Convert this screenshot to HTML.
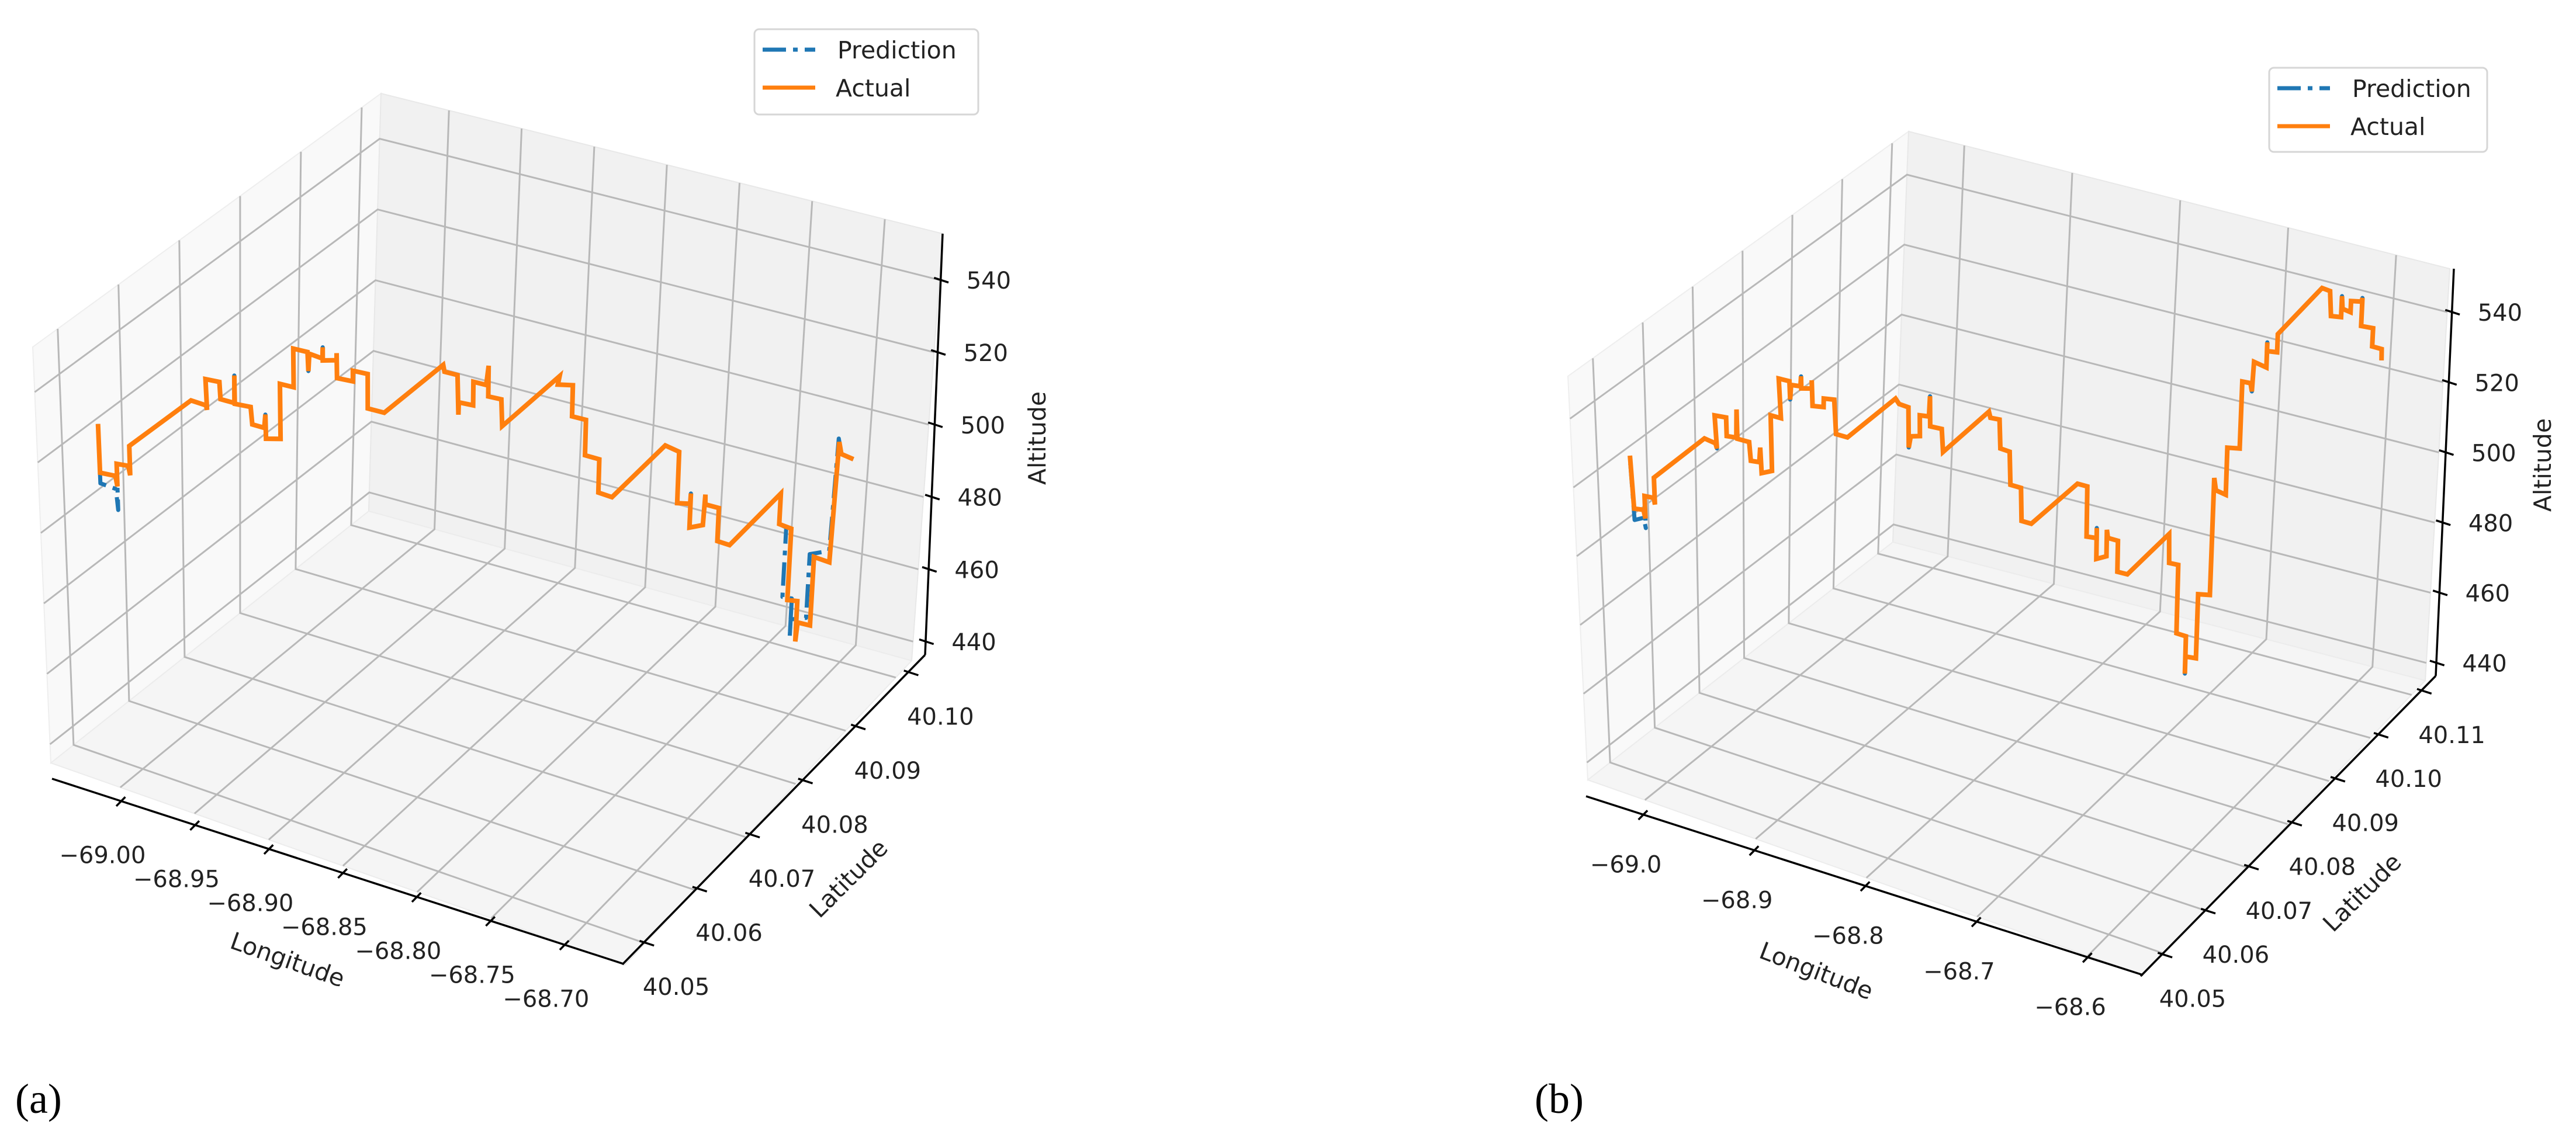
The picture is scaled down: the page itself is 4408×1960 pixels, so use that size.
<!DOCTYPE html>
<html><head><meta charset="utf-8"><style>
html,body{margin:0;padding:0;background:#fff;}
svg{display:block;font-family:"DejaVu Sans","Liberation Sans",sans-serif;}
</style></head><body>
<svg id="fig" xmlns="http://www.w3.org/2000/svg" width="4408" height="1960" viewBox="0 0 4408 1960">
<rect x="0" y="0" width="4408" height="1960" fill="#ffffff"/>
<g id="panelA"></g>
<g id="panelB"></g>
<text x="26" y="1905" font-family="Liberation Serif, serif" font-size="72" fill="#000">(a)</text>
<text x="2626" y="1905" font-family="Liberation Serif, serif" font-size="72" fill="#000">(b)</text>
</svg>
<script>
// ---------- Panel (a) data ----------
const lonTicksA = [-69.00,-68.95,-68.90,-68.85,-68.80,-68.75,-68.70];
const lonTickLabelsA = ["\u221269.00","\u221268.95","\u221268.90","\u221268.85","\u221268.80","\u221268.75","\u221268.70"];
const latTicksA = [40.05,40.06,40.07,40.08,40.09,40.10];
const latTickLabelsA = ["40.05","40.06","40.07","40.08","40.09","40.10"];
const altTicksA = [440,460,480,500,520,540];
const altTickLabelsA = ["440","460","480","500","520","540"];

const actualLonA = [-69.0211,-69.0209,-69.0147,-69.0140,-69.0140,-69.0091,-69.0084,-69.0084,-68.9821,-68.9757,
-68.9755,-68.9757,-68.9701,-68.9696,-68.9639,-68.9637,-68.9637,-68.9571,-68.9566,-68.9514,
-68.9509,-68.9507,-68.9445,-68.9445,-68.9389,-68.9389,-68.9330,-68.9325,-68.9322,-68.9266,
-68.9264,-68.9264,-68.9207,-68.9207,-68.9205,-68.9138,-68.9138,-68.9074,-68.9074,-68.9006,
-68.8755,-68.8750,-68.8693,-68.8688,-68.8686,-68.8624,-68.8624,-68.8568,-68.8561,-68.8561,
-68.8503,-68.8498,-68.8253,-68.8260,-68.8196,-68.8196,-68.8135,-68.8135,-68.8070,-68.8070,
-68.8009,-68.7782,-68.7718,-68.7718,-68.7661,-68.7659,-68.7659,-68.7600,-68.7595,-68.7593,
-68.7531,-68.7531,-68.7474,-68.7255,-68.7255,-68.7198,-68.7198,-68.7153,-68.7151,-68.7146,
-68.7089,-68.7089,-68.7015,-68.7003,-68.6991,-68.6934];
const actualLatA = [40.0497,40.0497,40.0507,40.0508,40.0508,40.0515,40.0516,40.0516,40.0555,40.0564,
40.0565,40.0564,40.0573,40.0573,40.0582,40.0582,40.0582,40.0592,40.0593,40.0600,
40.0601,40.0601,40.0610,40.0610,40.0619,40.0619,40.0628,40.0628,40.0629,40.0637,
40.0637,40.0637,40.0646,40.0646,40.0646,40.0656,40.0656,40.0665,40.0665,40.0676,
40.0713,40.0714,40.0722,40.0723,40.0723,40.0732,40.0732,40.0740,40.0742,40.0742,
40.0750,40.0751,40.0787,40.0786,40.0796,40.0796,40.0805,40.0805,40.0814,40.0814,
40.0823,40.0857,40.0866,40.0866,40.0875,40.0875,40.0875,40.0884,40.0885,40.0885,
40.0894,40.0894,40.0902,40.0935,40.0935,40.0943,40.0943,40.0950,40.0950,40.0951,
40.0960,40.0960,40.0970,40.0972,40.0974,40.0982];
const actualAltA = [529.8,516.0,514.7,511.7,518.1,517.3,514.6,522.9,534.4,532.7,
531.3,540.1,538.9,534.1,532.6,540.4,532.4,531.1,526.1,524.9,
528.6,521.8,521.4,536.9,535.5,546.4,545.0,539.7,544.5,542.8,
546.0,542.3,541.9,543.9,536.9,535.5,538.5,537.2,527.5,525.7,
537.3,535.3,534.0,522.8,526.3,525.0,531.6,530.3,535.5,526.9,
525.7,518.1,530.1,527.8,527.0,518.3,516.8,506.9,505.3,496.0,
494.2,506.5,504.2,489.9,489.1,492.0,482.5,482.6,491.0,488.3,
486.7,477.5,475.9,488.0,479.5,477.7,457.9,457.1,445.9,451.1,
449.6,468.6,466.5,499.7,496.2,494.2];

const predLonA = [-69.0211,-69.0209,-69.0147,-69.0140,-69.0140,-69.0091,-69.0084,-69.0084,-68.9821,-68.9757,
-68.9755,-68.9757,-68.9701,-68.9696,-68.9639,-68.9637,-68.9637,-68.9571,-68.9566,-68.9514,
-68.9509,-68.9507,-68.9445,-68.9445,-68.9389,-68.9389,-68.9330,-68.9325,-68.9322,-68.9266,
-68.9264,-68.9264,-68.9207,-68.9207,-68.9205,-68.9138,-68.9138,-68.9074,-68.9074,-68.9006,
-68.8755,-68.8750,-68.8693,-68.8688,-68.8686,-68.8624,-68.8624,-68.8568,-68.8561,-68.8561,
-68.8503,-68.8498,-68.8253,-68.8260,-68.8196,-68.8196,-68.8135,-68.8135,-68.8070,-68.8070,
-68.8009,-68.7782,-68.7718,-68.7718,-68.7661,-68.7659,-68.7659,-68.7600,-68.7595,-68.7593,
-68.7531,-68.7531,-68.7474,-68.7255,-68.7255,-68.7223,-68.7223,-68.7178,-68.7178,-68.7178,
-68.7109,-68.7109,-68.7020,-68.7008,-68.6991,-68.6934];
const predLatA = [40.0497,40.0497,40.0507,40.0508,40.0508,40.0515,40.0516,40.0516,40.0555,40.0564,
40.0565,40.0564,40.0573,40.0573,40.0582,40.0582,40.0582,40.0592,40.0593,40.0600,
40.0601,40.0601,40.0610,40.0610,40.0619,40.0619,40.0628,40.0628,40.0629,40.0637,
40.0637,40.0637,40.0646,40.0646,40.0646,40.0656,40.0656,40.0665,40.0665,40.0676,
40.0713,40.0714,40.0722,40.0723,40.0723,40.0732,40.0732,40.0740,40.0742,40.0742,
40.0750,40.0751,40.0787,40.0786,40.0796,40.0796,40.0805,40.0805,40.0814,40.0814,
40.0823,40.0857,40.0866,40.0866,40.0875,40.0875,40.0875,40.0884,40.0885,40.0885,
40.0894,40.0894,40.0902,40.0935,40.0935,40.0940,40.0940,40.0946,40.0946,40.0946,
40.0957,40.0957,40.0970,40.0972,40.0974,40.0982];
const predAltA = [529.8,513.0,511.0,505.0,518.1,517.3,514.6,522.9,534.4,532.7,
531.3,540.1,538.9,534.1,532.6,540.4,532.4,531.1,526.1,524.9,
528.6,521.8,521.4,536.9,535.5,546.4,545.0,539.7,544.5,542.8,
546.0,542.3,541.9,543.9,536.9,535.5,538.5,537.2,527.5,525.7,
537.3,535.3,534.0,522.8,526.3,525.0,531.6,530.3,535.5,526.9,
525.7,518.1,530.1,527.8,527.0,518.3,516.8,506.9,505.3,496.0,
494.2,506.5,504.2,489.9,489.1,492.0,482.5,482.6,491.0,488.3,
486.7,477.5,475.9,488.0,479.5,478.2,458.9,458.1,447.4,452.3,
451.9,469.6,469.6,500.6,496.2,494.2];

// ---------- Panel (b) data ----------
const lonTicksB = [-69.0,-68.9,-68.8,-68.7,-68.6];
const lonTickLabelsB = ["\u221269.0","\u221268.9","\u221268.8","\u221268.7","\u221268.6"];
const latTicksB = [40.05,40.06,40.07,40.08,40.09,40.10,40.11];
const latTickLabelsB = ["40.05","40.06","40.07","40.08","40.09","40.10","40.11"];
const altTicksB = [440,460,480,500,520,540];
const altTickLabelsB = ["440","460","480","500","520","540"];

const actualLonB = [-69.0190,-69.0181,-69.0128,-69.0118,-69.0118,-69.0065,-69.0062,-69.0062,-68.9771,-68.9708,
-68.9701,-68.9708,-68.9645,-68.9645,-68.9589,-68.9585,-68.9585,-68.9519,-68.9513,-68.9463,
-68.9456,-68.9453,-68.9394,-68.9394,-68.9337,-68.9344,-68.9284,-68.9281,-68.9274,-68.9221,
-68.9218,-68.9218,-68.9158,-68.9158,-68.9155,-68.9095,-68.9092,-68.9033,-68.9026,-68.8963,
-68.8685,-68.8666,-68.8612,-68.8612,-68.8602,-68.8549,-68.8549,-68.8496,-68.8490,-68.8490,
-68.8424,-68.8417,-68.8155,-68.8145,-68.8092,-68.8088,-68.8033,-68.8029,-68.7966,-68.7963,
-68.7907,-68.7639,-68.7582,-68.7582,-68.7522,-68.7522,-68.7522,-68.7462,-68.7462,-68.7456,
-68.7396,-68.7396,-68.7336,-68.7094,-68.7091,-68.7035,-68.7035,-68.6978,-68.6978,-68.6978,
-68.6915,-68.6912,-68.6843,-68.6836,-68.6826,-68.6766,-68.6766,-68.6693,-68.6690,-68.6643,
-68.6633,-68.6626,-68.6553,-68.6553,-68.6553,-68.6493,-68.6493,-68.6247,-68.6198,-68.6188,
-68.6128,-68.6128,-68.6122,-68.6072,-68.6072,-68.6012,-68.6006,-68.6006,-68.5936,-68.5936,
-68.5880,-68.5876];
const actualLatB = [40.0494,40.0496,40.0503,40.0504,40.0504,40.0511,40.0512,40.0512,40.0552,40.0560,
40.0561,40.0560,40.0569,40.0569,40.0576,40.0577,40.0577,40.0586,40.0587,40.0593,
40.0594,40.0595,40.0603,40.0603,40.0611,40.0610,40.0618,40.0618,40.0619,40.0626,
40.0627,40.0627,40.0635,40.0635,40.0635,40.0644,40.0644,40.0652,40.0653,40.0662,
40.0699,40.0702,40.0709,40.0709,40.0711,40.0718,40.0718,40.0725,40.0726,40.0726,
40.0735,40.0736,40.0772,40.0773,40.0780,40.0781,40.0788,40.0789,40.0797,40.0798,
40.0806,40.0842,40.0850,40.0850,40.0858,40.0858,40.0858,40.0866,40.0866,40.0867,
40.0875,40.0875,40.0883,40.0916,40.0917,40.0924,40.0924,40.0932,40.0932,40.0932,
40.0941,40.0941,40.0951,40.0951,40.0953,40.0961,40.0961,40.0971,40.0971,40.0978,
40.0979,40.0980,40.0990,40.0990,40.0990,40.0998,40.0998,40.1032,40.1038,40.1040,
40.1048,40.1048,40.1049,40.1055,40.1055,40.1064,40.1064,40.1064,40.1074,40.1074,
40.1082,40.1082];
const actualAltB = [528.3,512.8,512.3,509.8,516.3,515.6,513.6,521.4,531.7,530.1,
528.6,538.2,537.3,531.9,531.3,539.4,530.9,529.7,524.2,523.7,
527.9,520.4,520.8,536.9,535.8,547.3,546.3,541.0,545.2,544.6,
547.4,543.9,543.6,546.0,538.6,537.9,540.4,539.8,529.8,528.5,
538.4,536.7,535.5,523.9,527.0,526.8,532.8,532.2,538.0,529.3,
528.2,521.5,531.6,529.8,529.0,520.6,519.4,509.8,508.6,499.0,
497.8,507.7,506.5,492.1,491.3,494.2,485.3,485.7,493.3,490.9,
489.7,480.8,479.7,489.6,481.2,480.3,460.7,459.4,448.7,453.6,
452.6,471.0,470.2,503.8,500.1,498.4,511.9,511.1,530.3,529.4,
527.0,535.4,533.2,540.4,537.9,537.1,542.3,553.4,552.2,544.9,
544.1,550.1,546.4,545.1,548.3,547.5,548.6,540.6,539.3,534.1,
532.8,529.6];
const predAltB = [526.0,509.5,510.0,507.0,516.3,515.6,513.6,521.4,531.7,530.1,
528.6,538.2,537.3,531.9,531.3,539.4,530.9,529.7,524.2,523.7,
527.9,520.4,520.8,536.9,535.8,547.3,546.3,541.0,545.2,544.6,
547.4,543.9,543.6,546.0,538.6,537.9,540.4,539.8,529.8,528.5,
538.4,536.7,535.5,523.9,527.0,526.8,532.8,532.2,538.0,529.3,
528.2,521.5,531.6,529.8,529.0,520.6,519.4,509.8,508.6,499.0,
497.8,507.7,506.5,492.1,491.3,494.2,485.3,485.7,493.3,490.9,
489.7,480.8,479.7,489.6,481.2,480.3,460.7,459.4,448.7,453.6,
452.6,471.0,470.2,503.8,500.1,498.4,511.9,511.1,530.3,529.4,
527.0,535.4,533.2,540.4,537.9,537.1,542.3,553.4,552.2,544.9,
544.1,550.1,546.4,545.1,548.3,547.5,548.6,540.6,539.3,534.1,
532.8,529.6];

// ---------- rendering ----------
const NS = "http://www.w3.org/2000/svg";
function mk(tag, attrs, parent){
  const e = document.createElementNS(NS, tag);
  for (const k in attrs) e.setAttribute(k, attrs[k]);
  parent.appendChild(e);
  return e;
}
function lerp(a,b,f){ return [a[0]+(b[0]-a[0])*f, a[1]+(b[1]-a[1])*f]; }
function unit(a,b){ const dx=b[0]-a[0], dy=b[1]-a[1], l=Math.hypot(dx,dy); return [dx/l,dy/l]; }

function drawPanel(g, c){
  const P = (lon,lat,alt)=>{
    const u=(lon-c.lonMin)/c.lonRange, v=(lat-c.latMin)/c.latRange, w=(alt-c.zMin)/c.zRange;
    const f=(k)=>c.L[k]*(1-u)*(1-v)+c.F[k]*u*(1-v)+c.R[k]*u*v+c.B[k]*(1-u)*v;
    const z=(k)=>c.zL[k]*(1-u)*(1-v)+c.zF[k]*u*(1-v)+c.zR[k]*u*v+c.zB[k]*(1-u)*v;
    return [f(0)+w*z(0), f(1)+w*z(1)];
  };
  const lonFrac = v=>(v-c.lonMin)/c.lonRange;
  const latFrac = v=>(v-c.latMin)/c.latRange;
  const zFrac = v=>(v-c.zMin)/c.zRange;
  const x0=c.lonMin, x1=c.lonMin+c.lonRange, y0=c.latMin, y1=c.latMin+c.latRange, z0=c.zMin, z1=c.zMin+c.zRange;
  const pts = arr=>arr.map(p=>p[0].toFixed(1)+","+p[1].toFixed(1)).join(" ");

  let e;
  e = mk("polygon",{points:pts([P(x0,y0,z0),P(x0,y1,z0),P(x0,y1,z1),P(x0,y0,z1)]),fill:"#f9f9f9",stroke:"#eeeeee","stroke-width":2},g);
  
  
  e = mk("polygon",{points:pts([P(x0,y1,z0),P(x1,y1,z0),P(x1,y1,z1),P(x0,y1,z1)]),fill:"#f1f1f1",stroke:"#e8e8e8","stroke-width":2},g);
  
  
  e = mk("polygon",{points:pts([P(x0,y0,z0),P(x1,y0,z0),P(x1,y1,z0),P(x0,y1,z0)]),fill:"#f5f5f5",stroke:"#ececec","stroke-width":2},g);
  
  

  const gridG = mk("g",{stroke:"#b8b8b8","stroke-width":3,fill:"none"},g);
  
  
  c.lonTicks.forEach(t=>{
    e = mk("polyline",{points:pts([P(t,y0,z0),P(t,y1,z0),P(t,y1,z1)])},gridG);
    
    
  });
  c.latTicks.forEach(t=>{
    e = mk("polyline",{points:pts([P(x1,t,z0),P(x0,t,z0),P(x0,t,z1)])},gridG);
    
    
  });
  c.altTicks.forEach(t=>{
    e = mk("polyline",{points:pts([P(x0,y0,t),P(x0,y1,t),P(x1,y1,t)])},gridG);
    
    
  });

  const axG = mk("g",{stroke:"#000","stroke-width":3.5,fill:"none"},g);
  
  
  const txtG = mk("g",{fill:"#222","font-size":40},g);
  
  

  const la=c.lonAxis, ta=c.latAxis, za=c.zAxis;
  const dLon = unit(la[0],la[1]), dLat = unit(ta[0],ta[1]);
  e = mk("line",{x1:la[0][0],y1:la[0][1],x2:la[1][0],y2:la[1][1]},axG);
  
  
  e = mk("line",{x1:ta[0][0],y1:ta[0][1],x2:ta[1][0],y2:ta[1][1]},axG);
  
  
  e = mk("line",{x1:ta[1][0],y1:ta[1][1],x2:za[1][0],y2:za[1][1]},axG);
  
  

  c.lonTicks.forEach((t,i)=>{
    const p = lerp(la[0],la[1],lonFrac(t));
    e = mk("line",{x1:p[0]-12*dLat[0],y1:p[1]-12*dLat[1],x2:p[0]+10*dLat[0],y2:p[1]+10*dLat[1]},axG);
    
    
    e = mk("text",{x:p[0]+c.lonLabelOff[0],y:p[1]+c.lonLabelOff[1],"text-anchor":"middle","dominant-baseline":"central"},txtG);
    e.textContent = c.lonLabels[i];
    
    
  });
  c.latTicks.forEach((t,i)=>{
    const p = lerp(ta[0],ta[1],latFrac(t));
    e = mk("line",{x1:p[0]-8*dLon[0],y1:p[1]-8*dLon[1],x2:p[0]+18*dLon[0],y2:p[1]+18*dLon[1]},axG);
    
    
    e = mk("text",{x:p[0]+c.latLabelOff[0],y:p[1]+c.latLabelOff[1],"text-anchor":"middle","dominant-baseline":"central"},txtG);
    e.textContent = c.latLabels[i];
    
    
  });
  c.altTicks.forEach((t,i)=>{
    const p = lerp(za[0],za[1],zFrac(t));
    e = mk("line",{x1:p[0]-12*dLon[0],y1:p[1]-12*dLon[1],x2:p[0]+14*dLon[0],y2:p[1]+14*dLon[1]},axG);
    
    
    e = mk("text",{x:p[0]+44,y:p[1]+2,"text-anchor":"start","dominant-baseline":"central"},txtG);
    e.textContent = c.altLabels[i];
    
    
  });

  const titles = [["Longitude",c.lonTitle,"longitude-axis-title"],["Latitude",c.latTitle,"latitude-axis-title"],["Altitude",c.altTitle,"altitude-axis-title"]];
  titles.forEach(tt=>{
    const [txt,pos,nm]=tt;
    e = mk("text",{x:pos[0],y:pos[1],"text-anchor":"middle","dominant-baseline":"central","font-size":41,fill:"#222",transform:"rotate("+pos[2]+" "+pos[0]+" "+pos[1]+")"},g);
    e.textContent = txt;
    
    
  });

  const predPts = c.predLon.map((v,i)=>P(v,c.predLat[i],c.predAlt[i]));
  e = mk("polyline",{points:pts(predPts),fill:"none",stroke:"#1f77b4","stroke-width":7,"stroke-dasharray":"40 12 8 12","stroke-linejoin":"round"},g);
  
  
  const actPts = c.actLon.map((v,i)=>P(v,c.actLat[i],c.actAlt[i]));
  e = mk("polyline",{points:pts(actPts),fill:"none",stroke:"#ff7f0e","stroke-width":8,"stroke-linejoin":"miter"},g);
  
  

  const lg = mk("g",{},g);
  
  
  const b=c.legend;
  e = mk("rect",{x:b[0],y:b[1],width:b[2],height:b[3],rx:8,fill:"#fff",stroke:"#d6d6d6","stroke-width":3},lg);
  
  
  const lx=b[0]+14, ly1=b[1]+35, ly2=b[1]+100;
  e = mk("line",{x1:lx,y1:ly1,x2:lx+90,y2:ly1,stroke:"#1f77b4","stroke-width":7,"stroke-dasharray":"40 12 8 12"},lg);
  
  
  e = mk("text",{x:lx+128,y:ly1+1,"dominant-baseline":"central","font-size":41,fill:"#222"},lg);
  e.textContent="Prediction";
  
  
  e = mk("line",{x1:lx,y1:ly2,x2:lx+90,y2:ly2,stroke:"#ff7f0e","stroke-width":7},lg);
  
  
  e = mk("text",{x:lx+125,y:ly2+1,"dominant-baseline":"central","font-size":41,fill:"#222"},lg);
  e.textContent="Actual";
  
  
}

drawPanel(document.getElementById("panelA"), {
  L:[87,1306], F:[1069,1652], R:[1560,1131], B:[631,875],
  zL:[-31,-712], zF:[1,-728], zR:[53,-731], zB:[21,-715],
  lonMin:-69.0468, lonRange:0.3866, latMin:40.0459, latRange:0.05727, zMin:434.7, zRange:118.1,
  lonAxis:[[89,1333],[1067,1650]], latAxis:[[1065,1651],[1583,1121]], zAxis:[[1583,1131],[1613,400]],
  lonTicks:lonTicksA, lonLabels:lonTickLabelsA, latTicks:latTicksA, latLabels:latTickLabelsA,
  altTicks:altTicksA, altLabels:altTickLabelsA,
  lonLabelOff:[-32,93], latLabelOff:[55,77],
  lonTitle:[492,1643,19.5], latTitle:[1452,1504,-45], altTitle:[1775,750,-90],
  predLon:predLonA, predLat:predLatA, predAlt:predAltA,
  actLon:actualLonA, actLat:actualLatA, actAlt:actualAltA,
  legend:[1291,50,383,146]
});
drawPanel(document.getElementById("panelB"), {
  L:[2717,1335], F:[3667,1669], R:[4150,1165], B:[3239,928],
  zL:[-34,-691], zF:[-19,-693], zR:[42,-705], zB:[27,-703],
  lonMin:-69.0516, lonRange:0.5013, latMin:40.045, latRange:0.0683, zMin:434.95, zRange:117.4,
  lonAxis:[[2714,1363],[3667,1669]], latAxis:[[3663,1671],[4168,1157]], zAxis:[[4168,1165],[4199,460]],
  lonTicks:lonTicksB, lonLabels:lonTickLabelsB, latTicks:latTicksB, latLabels:latTickLabelsB,
  altTicks:altTicksB, altLabels:altTickLabelsB,
  lonLabelOff:[-30,86], latLabelOff:[52,77],
  lonTitle:[3108,1662,21], latTitle:[4042,1528,-45], altTitle:[4351,796,-90],
  predLon:actualLonB, predLat:actualLatB, predAlt:predAltB,
  actLon:actualLonB, actLat:actualLatB, actAlt:actualAltB,
  legend:[3883,116,373,144]
});
</script>
</body></html>
